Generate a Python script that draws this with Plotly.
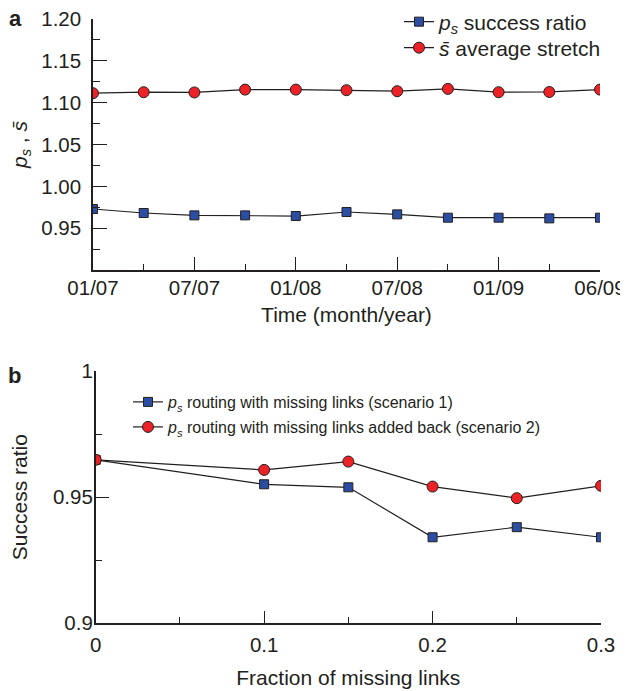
import plotly.graph_objects as go

# ---------- data ----------
# Panel a: quarterly snapshots (index positions along the time axis)
period_idx = [0, 1, 2, 3, 4, 5, 6, 7, 8, 9, 10]
success_ratio = [0.9729, 0.9681, 0.9653, 0.9653, 0.9645, 0.9693, 0.9665, 0.9625, 0.9625, 0.9617, 0.9625]
avg_stretch = [1.1113, 1.1125, 1.1122, 1.1156, 1.1156, 1.1149, 1.1137, 1.1165, 1.1125, 1.1128, 1.1156]
time_tick_pos = [0, 2, 4, 6, 8, 10]
time_tick_labels = ["01/07", "07/07", "01/08", "07/08", "01/09", "06/09"]
a_ytick_vals = [0.95, 1.00, 1.05, 1.10, 1.15, 1.20]
a_ytick_text = ["0.95", "1.00", "1.05", "1.10", "1.15", "1.20"]

# Panel b
missing_frac = [0, 0.1, 0.15, 0.2, 0.25, 0.3]
scenario1 = [0.9648, 0.9551, 0.9539, 0.9341, 0.9381, 0.9341]
scenario2 = [0.9648, 0.9608, 0.9641, 0.9542, 0.9496, 0.9545]
b_xtick_vals = [0, 0.1, 0.2, 0.3]
b_xtick_text = ["0", "0.1", "0.2", "0.3"]
b_ytick_vals = [0.9, 0.95, 1.0]
b_ytick_text = ["0.9", "0.95", "1"]

# ---------- style ----------
OFF = 8            # page body margin
W, H = 620, 683
FONT = "Liberation Sans, Arial, Helvetica, sans-serif"
TXT = "#231f20"
AX = "#231f20"
BLUE = "#2b4ea2"
RED = "#ec2227"
EDGE = "#231f20"
LINE = "#231f20"

def px_x(p):
    return (p - OFF) / W

def px_y(p):
    return 1 - (p - OFF) / H

fig = go.Figure()

fig.add_trace(go.Scatter(
    x=period_idx, y=success_ratio, mode="lines+markers",
    name="<i>p<sub>s</sub></i> success ratio",
    line=dict(color=LINE, width=1.2),
    marker=dict(symbol="square", size=9, color=BLUE, line=dict(color=EDGE, width=1)),
    xaxis="x", yaxis="y", legend="legend"))
fig.add_trace(go.Scatter(
    x=period_idx, y=avg_stretch, mode="lines+markers",
    name="<i>s̄</i> average stretch",
    line=dict(color=LINE, width=1.2),
    marker=dict(symbol="circle", size=11, color=RED, line=dict(color=EDGE, width=1)),
    xaxis="x", yaxis="y", legend="legend3"))

fig.add_trace(go.Scatter(
    x=missing_frac, y=scenario1, mode="lines+markers",
    name="<i>p<sub>s</sub></i> routing with missing links (scenario 1)",
    line=dict(color=LINE, width=1.2),
    marker=dict(symbol="square", size=9, color=BLUE, line=dict(color=EDGE, width=1)),
    xaxis="x2", yaxis="y2", legend="legend2"))
fig.add_trace(go.Scatter(
    x=missing_frac, y=scenario2, mode="lines+markers",
    name="<i>p<sub>s</sub></i> routing with missing links added back (scenario 2)",
    line=dict(color=LINE, width=1.2),
    marker=dict(symbol="circle", size=11, color=RED, line=dict(color=EDGE, width=1)),
    xaxis="x2", yaxis="y2", legend="legend4"))

common_axis = dict(showline=True, linecolor=AX, linewidth=1.5, showgrid=False, zeroline=False,
                   automargin=False, ticklabeloverflow="allow",
                   ticks="inside", tickcolor=AX, tickwidth=1.3,
                   tickfont=dict(family=FONT, size=20.5, color=TXT))

def leg(xp, yp, size):
    return dict(x=px_x(xp), y=px_y(yp), xanchor="left", yanchor="middle",
                bgcolor="rgba(0,0,0,0)", font=dict(family=FONT, size=size, color=TXT),
                itemwidth=30)

fig.update_layout(
    width=W, height=H,
    margin=dict(l=0, r=0, t=0, b=0, autoexpand=False),
    paper_bgcolor="white", plot_bgcolor="white",
    font=dict(family=FONT, color=TXT),
    xaxis=dict(domain=[px_x(93), px_x(600)], range=[0, 10], anchor="y",
               tickmode="array", tickvals=time_tick_pos, ticktext=time_tick_labels,
               ticklen=13, ticklabelstandoff=-1,
               minor=dict(ticks="inside", ticklen=6, tickwidth=1.3, tickcolor=AX, tick0=0, dtick=1),
               title=dict(text="Time (month/year)", font=dict(family=FONT, size=21, color=TXT), standoff=9),
               **common_axis),
    yaxis=dict(domain=[px_y(270), px_y(19)], range=[0.9, 1.2], anchor="x",
               tickmode="array", tickvals=a_ytick_vals, ticktext=a_ytick_text,
               ticklen=14, ticklabelstandoff=6,
               minor=dict(ticks="inside", ticklen=7, tickwidth=1.3, tickcolor=AX, tick0=0.9, dtick=0.025),
               title=dict(text="<i>p<sub>s</sub></i> , <i>s̄</i>", font=dict(family=FONT, size=21, color=TXT), standoff=8),
               **common_axis),
    xaxis2=dict(domain=[px_x(95.7), px_x(601)], range=[0, 0.3], anchor="y2",
                tickmode="array", tickvals=b_xtick_vals, ticktext=b_xtick_text,
                ticklen=13, ticklabelstandoff=2,
                minor=dict(ticks="inside", ticklen=7, tickwidth=1.3, tickcolor=AX, tick0=0, dtick=0.05),
                title=dict(text="Fraction of missing links", font=dict(family=FONT, size=21, color=TXT), standoff=16),
                **common_axis),
    yaxis2=dict(domain=[px_y(623.3), px_y(371)], range=[0.9, 1.0], anchor="x2",
                tickmode="array", tickvals=b_ytick_vals, ticktext=b_ytick_text,
                ticklen=14, ticklabelstandoff=-3,
                minor=dict(ticks="inside", ticklen=7, tickwidth=1.3, tickcolor=AX, tick0=0.9, dtick=0.025),
                title=dict(text="Success ratio", font=dict(family=FONT, size=21, color=TXT), standoff=23),
                **common_axis),
    legend=leg(399, 22, 21),
    legend3=leg(399, 48, 21),
    legend2=leg(128, 402, 16),
    legend4=leg(128, 427, 16),
    showlegend=True,
    annotations=[
        dict(text="<b>a</b>", x=px_x(7), y=px_y(19), xref="paper", yref="paper",
             xanchor="left", yanchor="middle", showarrow=False,
             font=dict(family=FONT, size=22, color=TXT)),
        dict(text="<b>b</b>", x=px_x(6), y=px_y(375), xref="paper", yref="paper",
             xanchor="left", yanchor="middle", showarrow=False,
             font=dict(family=FONT, size=22, color=TXT)),
    ],
)

fig.write_html("out.html")
